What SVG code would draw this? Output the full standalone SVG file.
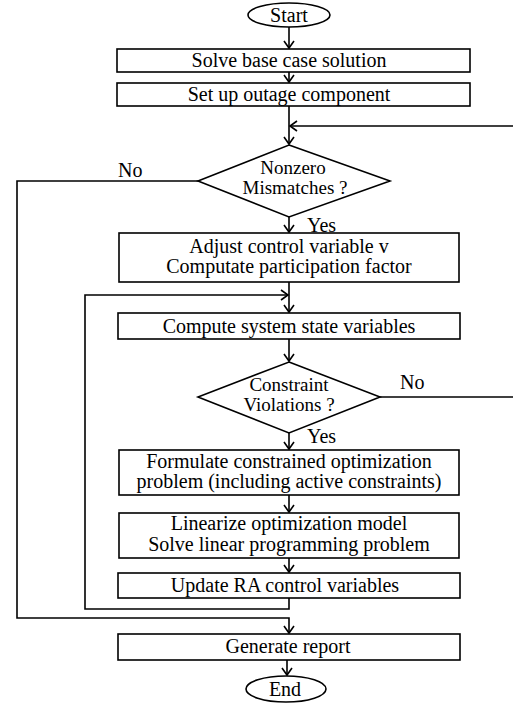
<svg xmlns="http://www.w3.org/2000/svg" width="513" height="703" viewBox="0 0 513 703">
<style>
.shape{fill:#fff;stroke:#000;stroke-width:1.6}
.conn{fill:none;stroke:#000;stroke-width:1.6}
text{font-family:"Liberation Serif","Times New Roman",serif;font-size:20px;fill:#000}
.c{text-anchor:middle}
.d{font-size:19px}
</style>
<defs>
<marker id="arr" markerUnits="userSpaceOnUse" markerWidth="12" markerHeight="14" refX="8" refY="6" orient="auto">
<path d="M1,1 L8,6 L1,11" fill="none" stroke="#000" stroke-width="1.6"/>
</marker>
</defs>
<rect width="513" height="703" fill="#fff"/>
<g id="connectors">
<path class="conn" d="M289,27 V48" marker-end="url(#arr)"/>
<path class="conn" d="M289,72 V82" marker-end="url(#arr)"/>
<path class="conn" d="M289,106 V144" marker-end="url(#arr)"/>
<path class="conn" d="M513,126 H290" marker-end="url(#arr)"/>
<path class="conn" d="M198,181 H17 V618 H289 V633" marker-end="url(#arr)"/>
<path class="conn" d="M289,217 V232" marker-end="url(#arr)"/>
<path class="conn" d="M289,282 V312" marker-end="url(#arr)"/>
<path class="conn" d="M289,598 V609 H85 V295 H288" marker-end="url(#arr)"/>
<path class="conn" d="M289,339 V361" marker-end="url(#arr)"/>
<path class="conn" d="M380,397 H513"/>
<path class="conn" d="M289,433 V449" marker-end="url(#arr)"/>
<path class="conn" d="M289,495 V512" marker-end="url(#arr)"/>
<path class="conn" d="M289,558 V572" marker-end="url(#arr)"/>
<path class="conn" d="M287,660 V675" marker-end="url(#arr)"/>
<text x="118" y="177">No</text>
<text x="307" y="232">Yes</text>
<text x="400" y="389">No</text>
<text x="307" y="443">Yes</text>
</g>
<g id="start">
<ellipse class="shape" cx="289" cy="15" rx="41" ry="12"/>
<text class="c" x="289" y="22">Start</text>
</g>
<g id="solve-base">
<rect class="shape" x="117" y="49" width="353" height="23"/>
<text class="c" x="289" y="67">Solve base case solution</text>
</g>
<g id="setup-outage">
<rect class="shape" x="117" y="83" width="353" height="23"/>
<text class="c" x="289" y="101">Set up outage component</text>
</g>
<g id="nonzero">
<polygon class="shape" points="289,145 390,181 289,217 198,181"/>
<text class="c d" x="293" y="174">Nonzero</text>
<text class="c d" x="295" y="194">Mismatches ?</text>
</g>
<g id="adjust">
<rect class="shape" x="119" y="233" width="340" height="49"/>
<text class="c" x="289" y="253">Adjust control variable v</text>
<text class="c" x="289" y="273">Computate participation factor</text>
</g>
<g id="compute-state">
<rect class="shape" x="118" y="313" width="342" height="26"/>
<text class="c" x="289" y="333">Compute system state variables</text>
</g>
<g id="violations">
<polygon class="shape" points="289,362 380,397 289,433 198,397"/>
<text class="c d" x="289" y="391">Constraint</text>
<text class="c d" x="289" y="411">Violations ?</text>
</g>
<g id="formulate">
<rect class="shape" x="119" y="450" width="340" height="45"/>
<text class="c" x="289" y="468">Formulate constrained optimization</text>
<text class="c" x="289" y="488">problem (including active constraints)</text>
</g>
<g id="linearize">
<rect class="shape" x="119" y="513" width="340" height="45"/>
<text class="c" x="289" y="530">Linearize optimization model</text>
<text class="c" x="289" y="551">Solve linear programming problem</text>
</g>
<g id="update">
<rect class="shape" x="118" y="573" width="342" height="25"/>
<text class="c" x="285" y="592">Update RA control variables</text>
</g>
<g id="report">
<rect class="shape" x="118" y="634" width="342" height="26"/>
<text class="c" x="288" y="653">Generate report</text>
</g>
<g id="end">
<ellipse class="shape" cx="286" cy="689" rx="40" ry="13"/>
<text class="c" x="285" y="696">End</text>
</g>
</svg>
